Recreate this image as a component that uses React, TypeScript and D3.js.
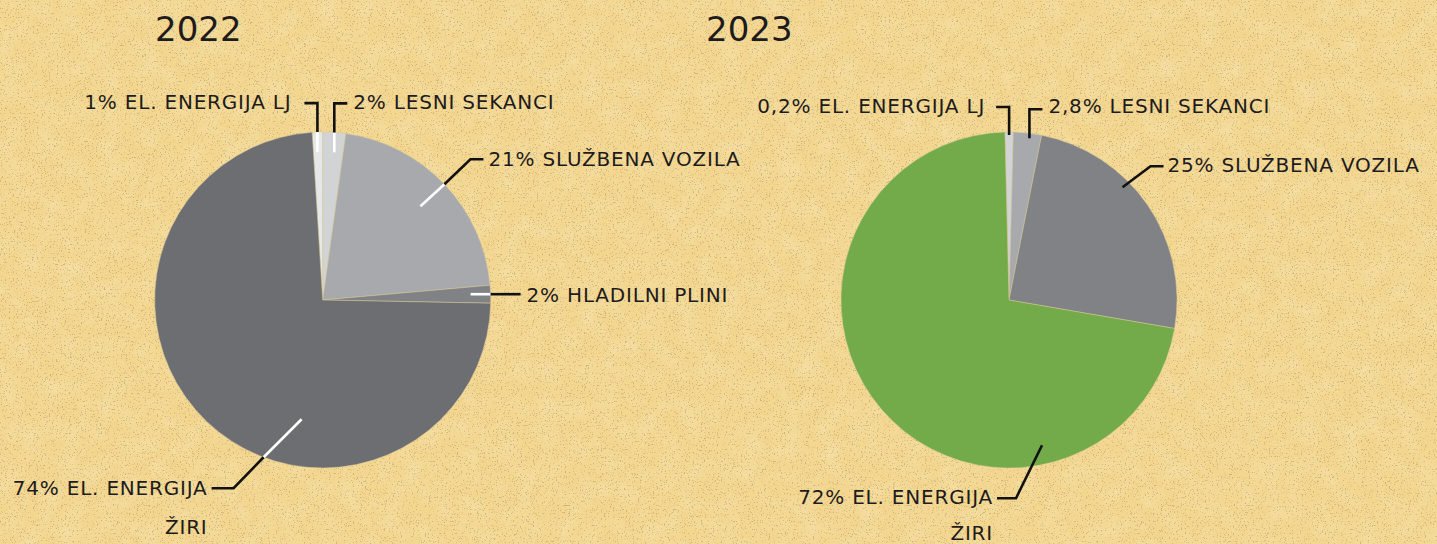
import React from "react";
import * as d3 from "d3";

// ---------- DATA ----------
const titles = ["2022", "2023"];

const categories2022 = ["EL. ENERGIJA LJ", "LESNI SEKANCI", "SLUŽBENA VOZILA", "HLADILNI PLINI", "EL. ENERGIJA ŽIRI"];
const values2022 = [1, 2.2, 21.4, 1.7, 73.7];
const labels2022 = ["1% EL. ENERGIJA LJ", "2% LESNI SEKANCI", "21% SLUŽBENA VOZILA", "2% HLADILNI PLINI", "74% EL. ENERGIJA"];
const sublabels2022 = ["", "", "", "", "ŽIRI"];
const colors2022 = ["#e6e7e8", "#d1d3d4", "#a7a9ac", "#808285", "#6d6e71"];

const categories2023 = ["EL. ENERGIJA LJ", "LESNI SEKANCI", "SLUŽBENA VOZILA", "EL. ENERGIJA ŽIRI"];
const values2023 = [0.8, 2.7, 24.6, 71.9];
const labels2023 = ["0,2% EL. ENERGIJA LJ", "2,8% LESNI SEKANCI", "25% SLUŽBENA VOZILA", "72% EL. ENERGIJA"];
const sublabels2023 = ["", "", "", "ŽIRI"];
const colors2023 = ["#d1d3d4", "#a7a9ac", "#808285", "#73ab4a"];

// ---------- LAYOUT ----------
type Lay = {
  ang?: number;
  r0: number;
  white?: [number, number];
  elbow: [number, number];
  run: number;
  gap: number;
  ty: number;
  sub: number;
};

const layout2022: Lay[] = [
  { r0: 168, white: [0, 20], elbow: [0, -29], run: -13, gap: 13, ty: 6, sub: 39 },
  { r0: 168, white: [0, 20], elbow: [0, -29], run: 13, gap: 6, ty: 6, sub: 39 },
  { r0: 168, white: [-24, 22], elbow: [26, -25], run: 13, gap: 5, ty: 7, sub: 39 },
  { r0: 168, white: [-20, 0], elbow: [0, 0], run: 30, gap: 6, ty: 8, sub: 39 },
  { ang: 200.6, r0: 168, white: [38, -38], elbow: [-30, 31], run: -22, gap: 4, ty: 7, sub: 39 },
];
const layout2023: Lay[] = [
  { r0: 165, elbow: [0, -28], run: -13, gap: 11, ty: 6, sub: 37 },
  { ang: 7.2, r0: 163, elbow: [0, -29], run: 13, gap: 6, ty: 4, sub: 37 },
  { ang: 45.2, r0: 160, elbow: [28, -21], run: 13, gap: 4, ty: 6, sub: 37 },
  { ang: 167.2, r0: 149, elbow: [-26, 53], run: -19, gap: 4, ty: 6, sub: 36 },
];

const W = 1437;
const H = 544;
const R = 168;
const FONT = "'DejaVu Sans', sans-serif";
const TEXT = "#1e1b1c";

const deg = Math.PI / 180;

function Pie(props: {
  cx: number;
  cy: number;
  start: number;
  values: number[];
  colors: string[];
  labels: string[];
  sublabels: string[];
  layout: Lay[];
  cats: string[];
}) {
  const { cx, cy, start, values, colors, labels, sublabels, layout, cats } = props;
  const pie = d3
    .pie<number>()
    .sort(null)
    .value((d) => d)
    .startAngle(start * deg)
    .endAngle(start * deg + 2 * Math.PI);
  const arcs = pie(values);
  const arc = d3.arc<d3.PieArcDatum<number>>().innerRadius(0).outerRadius(R);

  return (
    <g>
      <g transform={`translate(${cx},${cy})`}>
        {arcs.map((a, i) => (
          <path key={cats[i]} d={arc(a) || ""} fill={colors[i]} stroke="#d8c89c" strokeWidth={0.5} />
        ))}
      </g>
      {arcs.map((a, i) => {
        const L = layout[i];
        const ang = L.ang !== undefined ? L.ang * deg : (a.startAngle + a.endAngle) / 2;
        const p1x = cx + L.r0 * Math.sin(ang);
        const p1y = cy - L.r0 * Math.cos(ang);
        const p2x = p1x + L.elbow[0];
        const p2y = p1y + L.elbow[1];
        const p3x = p2x + L.run;
        const p3y = p2y;
        const anchor = L.run < 0 ? "end" : "start";
        const tx = L.run < 0 ? p3x - L.gap : p3x + L.gap;
        const ty = p3y + L.ty;
        return (
          <g key={"l" + i}>
            {L.white && (
              <line
                x1={p1x + L.white[0]}
                y1={p1y + L.white[1]}
                x2={p1x}
                y2={p1y}
                stroke="#ffffff"
                strokeWidth={2.6}
              />
            )}
            <polyline
              points={`${p1x},${p1y} ${p2x},${p2y} ${p3x},${p3y}`}
              fill="none"
              stroke="#111111"
              strokeWidth={2.6}
              strokeLinejoin="miter"
            />
            <text x={tx} y={ty} textAnchor={anchor} fontFamily={FONT} fontSize={20} letterSpacing={0.8} fill={TEXT}>
              {labels[i]}
            </text>
            {sublabels[i] && (
              <text x={tx} y={ty + L.sub} textAnchor={anchor} fontFamily={FONT} fontSize={20} letterSpacing={0.8} fill={TEXT}>
                {sublabels[i]}
              </text>
            )}
          </g>
        );
      })}
    </g>
  );
}

export default function App() {
  return (
    <svg
      width={W}
      height={H}
      viewBox={`0 0 ${W} ${H}`}
      style={{ position: "absolute", left: 0, top: 0, display: "block" }}
    >
      <defs>
        <filter id="speck" x="0" y="0" width="100%" height="100%">
          <feTurbulence type="fractalNoise" baseFrequency="0.75" numOctaves={2} seed={3} result="n" />
          <feColorMatrix
            in="n"
            type="matrix"
            values="0 0 0 0 0.5  0 0 0 0 0.38  0 0 0 0 0.16  8 0 0 0 -4.9"
          />
        </filter>
        <filter id="mottle" x="0" y="0" width="100%" height="100%">
          <feTurbulence type="fractalNoise" baseFrequency="0.05" numOctaves={2} seed={7} result="m" />
          <feColorMatrix
            in="m"
            type="matrix"
            values="0 0 0 0 1  0 0 0 0 0.95  0 0 0 0 0.8  1.2 0 0 0 -0.5"
          />
        </filter>
      </defs>
      <rect x={0} y={0} width={W} height={H} fill="#f3d791" />
      <rect x={0} y={0} width={W} height={H} filter="url(#mottle)" opacity={0.35} />
      <rect x={0} y={0} width={W} height={H} filter="url(#speck)" opacity={0.7} />

      <text x={155} y={41} fontFamily={FONT} fontSize={34} fontWeight={500} fill={TEXT}>
        {titles[0]}
      </text>
      <text x={706} y={41} fontFamily={FONT} fontSize={34} fontWeight={500} fill={TEXT}>
        {titles[1]}
      </text>

      <Pie
        cx={322.7}
        cy={300}
        start={-3.6}
        values={values2022}
        colors={colors2022}
        labels={labels2022}
        sublabels={sublabels2022}
        layout={layout2022}
        cats={categories2022}
      />
      <Pie
        cx={1009}
        cy={300}
        start={-1.4}
        values={values2023}
        colors={colors2023}
        labels={labels2023}
        sublabels={sublabels2023}
        layout={layout2023}
        cats={categories2023}
      />
    </svg>
  );
}
